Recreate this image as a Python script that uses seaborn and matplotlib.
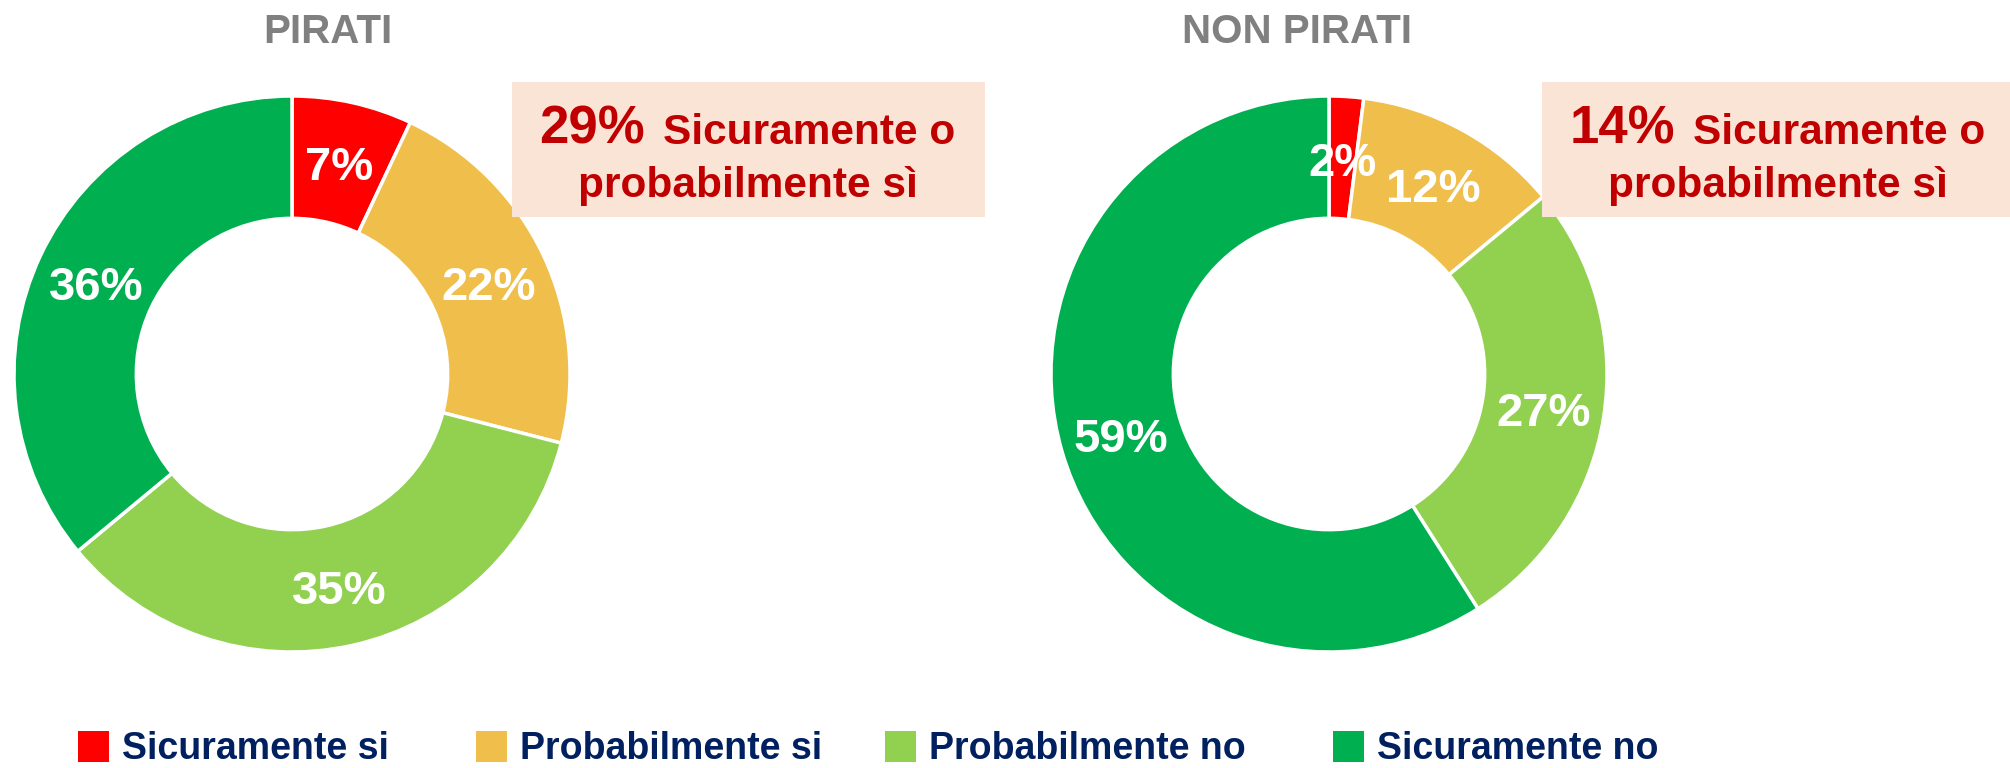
import matplotlib
matplotlib.use("Agg")
import matplotlib.pyplot as plt
import seaborn as sns
from matplotlib.patches import Rectangle
from matplotlib.transforms import offset_copy

# data
categories = ["Sicuramente si", "Probabilmente si", "Probabilmente no", "Sicuramente no"]
pirati = [7, 22, 35, 36]
non_pirati = [2, 12, 27, 59]
group_titles = ["PIRATI", "NON PIRATI"]
callout_pct = ["29%", "14%"]
colors = ["#FF0000", "#F0BE4B", "#92D050", "#00B050"]

sns.set_theme(style="white")
plt.rcParams["font.family"] = ["Liberation Sans", "DejaVu Sans"]

W, H = 2010, 768
fig = plt.figure(figsize=(W / 100, H / 100), dpi=100)


def fx(x):
    return x / W


def fy(y):
    return 1 - y / H


R = 278  # outer radius in px
centers = [(292, 374), (1329, 374)]
boxes = [(512, 82, 473, 135), (1542, 82, 468, 135)]
half = 300

for i, vals in enumerate([pirati, non_pirati]):
    cx, cy = centers[i]
    ax = fig.add_axes([fx(cx - half), fy(cy + half), 2 * half / W, 2 * half / H])
    wedges, texts, autotexts = ax.pie(
        vals, colors=colors, startangle=90, counterclock=False,
        radius=1, pctdistance=0.78, autopct="%.0f%%",
        wedgeprops=dict(width=0.44, edgecolor="white", linewidth=2.5),
        textprops=dict(color="white", fontsize=34, fontweight="bold"))
    for t in autotexts:
        t.set_transform(offset_copy(t.get_transform(), fig=fig, y=-6, units="dots"))
    ax.set_xlim(-half / R, half / R)
    ax.set_ylim(-half / R, half / R)
    ax.set_aspect("equal")
    ax.axis("off")

    # title
    fig.text(fx(cx + 36 if i == 0 else cx - 32), fy(43), group_titles[i], ha="center",
             va="baseline", fontsize=29, fontweight="bold", color="#808080")

    # callout box
    bx, by, bw, bh = boxes[i]
    fig.patches.append(Rectangle((fx(bx), fy(by + bh)), bw / W, bh / H,
                                 transform=fig.transFigure, facecolor="#FAE4D6",
                                 edgecolor="none", zorder=5))
    split = bx + 142
    fig.text(fx(split - 9), fy(144), callout_pct[i], ha="right", va="baseline",
             fontsize=38, fontweight="bold", color="#C00000", zorder=6)
    fig.text(fx(split + 9), fy(144), "Sicuramente o", ha="left", va="baseline",
             fontsize=30.5, fontweight="bold", color="#C00000", zorder=6)
    fig.text(fx(bx + 236), fy(197), "probabilmente sì", ha="center", va="baseline",
             fontsize=30.5, fontweight="bold", color="#C00000", zorder=6)

# legend
sq_x = [78, 476, 885, 1333]
for x, c, lab in zip(sq_x, colors, categories):
    fig.patches.append(Rectangle((fx(x), fy(762)), 31 / W, 31 / H,
                                 transform=fig.transFigure, facecolor=c,
                                 edgecolor="none"))
    fig.text(fx(x + 44), fy(759), lab, ha="left", va="baseline",
             fontsize=27, fontweight="bold", color="#002060")

fig.savefig("out.png", dpi=100, facecolor="white")
